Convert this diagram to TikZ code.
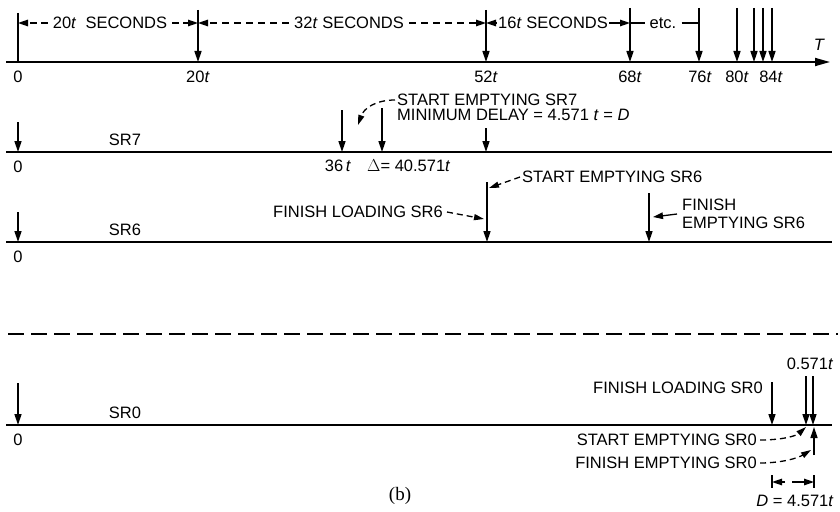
\documentclass[tikz,border=0pt]{standalone}
\usepackage{fontspec}
\setmainfont{Liberation Sans}
\newfontfamily\capfont{Liberation Serif}
\usetikzlibrary{arrows.meta}
\newcommand{\tvar}{\textit{t}}
\tikzset{
  axis/.style={line width=1.7pt},
  tickarr/.style={line width=1.5pt,-{Triangle[length=11pt,width=7pt]}},
  callout/.style={line width=1.3pt,dash pattern=on 6pt off 4pt,-{Triangle[length=10pt,width=6pt]}},
  dimline/.style={line width=1.3pt},
  dimarr/.style={line width=1.3pt,-{Triangle[length=10pt,width=6.5pt]}},
  lbl/.style={inner sep=0pt,font=\fontsize{16.5}{17.5}\selectfont},
}

\begin{document}
\begin{tikzpicture}[x=1pt,y=-1pt]
\useasboundingbox (0,0) rectangle (840,511);

\draw[axis,-{Triangle[length=15pt,width=8pt]}] (6,62) -- (830,62);
\node[lbl,font=\fontsize{16.5}{17.5}\selectfont\itshape] (T) at (819,45) {T};
\coordinate (base) at (0,62);
\coordinate (t0) at (18,13);
\draw[line width=1.5pt] (t0) -- (t0 |- base);
\foreach \n/\x/\y in {20/198/10,52/486/10,68/630/8,76/699/8,80/737/8,82/754/8,83/763/8,84/772/8}{
  \coordinate (t\n) at (\x,\y);
  \draw[tickarr] (t\n) -- (t\n |- base);
}
\foreach \n/\x/\s in {0/18/0,20/198/20\tvar,52/486/52\tvar,68/630/68\tvar,76/700/76\tvar,80/737/80\tvar,84/771/84\tvar}
  \node[lbl] (l\n) at (\x,77) {\s};

\node[lbl,inner xsep=5pt] (d20) at (110,23) {20\tvar\ \ SECONDS};
\draw[dimarr,dash pattern=on 7pt off 4pt] (d20.west) -- (t0 |- d20);
\draw[dimarr,dash pattern=on 7pt off 4pt] (d20.east) -- (t20 |- d20);
\node[lbl,inner xsep=5pt] (d32) at (349,23) {32\tvar\ SECONDS};
\draw[dimarr,dash pattern=on 7pt off 5pt] (d32.west) -- (t20 |- d32);
\draw[dimarr,dash pattern=on 7pt off 5pt] (d32.east) -- (t52 |- d32);
\node[lbl,inner xsep=1pt] (d16) at (553,23) {16\tvar\ SECONDS};
\draw[dimarr] (d16.west) -- (t52 |- d16);
\draw[dimarr] (d16.east) -- (t68 |- d16);
\node[lbl,inner xsep=5pt] (detc) at (663,23) {etc.};
\draw[dimline] (t68 |- detc) -- (detc.west);
\draw[dimline] (detc.east) -- (t76 |- detc);

\foreach \r/\y/\h in {7/152/30,6/242/30,0/425/42}{
  \draw[axis] (6,\y) -- (832,\y);
  \coordinate (ax\r) at (0,\y);
  \coordinate (z\r) at (18,\y-\h);
  \draw[tickarr] (z\r) -- (z\r |- ax\r);
  \node[lbl] (sr\r) at (125,\y-12) {SR\r};
  \node[lbl] (zero\r) at (18,\y+15) {0};
}

\coordinate (a36) at (342,110);
\coordinate (aD) at (382,108);
\coordinate (a52) at (486,128);
\foreach \c in {a36,aD,a52}
  \draw[tickarr] (\c) -- (\c |- ax7);
\node[lbl] (l36) at (338,166) {36\,\tvar};
\node[lbl,anchor=west] (lD) at (367,166) {$\Delta$= 40.571\tvar};
\node[lbl,anchor=west] (se7) at (397,100) {START EMPTYING SR7};
\node[lbl,anchor=west] (md7) at (397,115) {MINIMUM DELAY = 4.571 \tvar{} = \textit{D}};
\coordinate (c7) at (358,125);
\draw[callout] ([xshift=-2pt]se7.west) .. controls (376,100) and (364,108) .. (c7);

\coordinate (b52) at (487,182);
\coordinate (a70) at (649,193);
\draw[tickarr] (b52) -- (b52 |- ax6);
\draw[tickarr] (a70) -- (a70 |- ax6);
\node[lbl,anchor=west] (se6) at (522,177) {START EMPTYING SR6};
\coordinate (c6a) at (489,188);
\draw[callout] ([xshift=-2pt]se6.west) -- (c6a);
\node[lbl,anchor=east] (fl6) at (443,212) {FINISH LOADING SR6};
\coordinate (c6b) at (484,219);
\draw[callout] ([xshift=4pt]fl6.east) -- (c6b);
\node[lbl,anchor=west,align=left] (fe6) at (682,214) {FINISH\\EMPTYING SR6};
\coordinate (c6c) at (653,217);
\draw[dimarr] ([xshift=-5pt]fe6.west) -- (c6c);

\draw[line width=1.5pt,dash pattern=on 16pt off 7pt] (8,334) -- (838,334);

\coordinate (a84) at (772,382);
\coordinate (s0) at (806,376);
\coordinate (s1) at (813,376);
\foreach \c in {a84,s0,s1}
  \draw[tickarr] (\c) -- (\c |- ax0);
\node[lbl,anchor=east] (fl0) at (763,388) {FINISH LOADING SR0};
\node[lbl] (gap) at (810,364) {0.571\tvar};
\coordinate (u0) at (814,455);
\coordinate (u1) at (814,427);
\draw[tickarr] (u0) -- (u1);
\node[lbl,anchor=east] (se0) at (757,440) {START EMPTYING SR0};
\coordinate (c0a) at (806,427);
\draw[callout] ([xshift=3pt]se0.east) .. controls (782,440) and (796,436) .. (c0a);
\node[lbl,anchor=east] (fe0) at (757,463) {FINISH EMPTYING SR0};
\coordinate (c0b) at (811,450);
\draw[callout] ([xshift=3pt]fe0.east) .. controls (782,463) and (798,458) .. (c0b);

\coordinate (dl) at (772,475);
\coordinate (dr) at (814,475);
\draw[dimline] (dl) -- ++(0,13);
\draw[dimline] (dr) -- ++(0,13);
\draw[dimarr] (785,482) -- (dl |- 0,482);
\draw[dimarr] (792,482) -- (dr |- 0,482);
\node[lbl] (dD) at (795,501) {\textit{D} = 4.571\tvar};

\node[font=\capfont\fontsize{19}{22}\selectfont] (cap) at (400,496) {(b)};
\end{tikzpicture}
\end{document}
